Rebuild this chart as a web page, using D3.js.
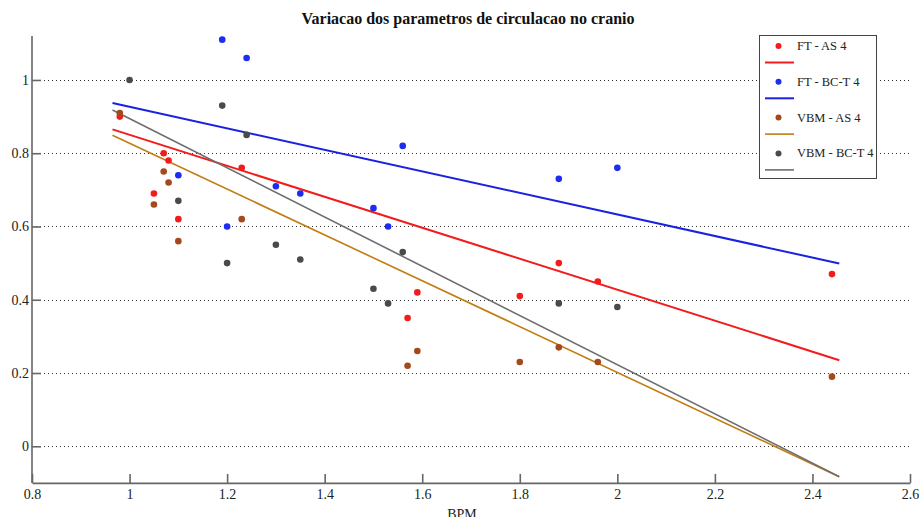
<!DOCTYPE html>
<html>
<head>
<meta charset="utf-8">
<script src="https://cdn.jsdelivr.net/npm/d3@7"></script>
<style>
  html, body { margin: 0; padding: 0; background: #ffffff; }
  svg { display: block; }
</style>
</head>
<body>
<svg id="chart" width="919" height="517"></svg>
<script>
// ---- Data ----
const chartTitle = "Variacao dos parametros de circulacao no cranio";
const xLabel = "BPM";
const seriesNames = ["FT - AS 4", "FT - BC-T 4", "VBM - AS 4", "VBM - BC-T 4"];

const ftAsX   = [0.98, 1.05, 1.07, 1.08, 1.10, 1.23, 1.57, 1.59, 1.80, 1.88, 1.96, 2.44];
const ftAsY   = [0.90, 0.69, 0.80, 0.78, 0.62, 0.76, 0.35, 0.42, 0.41, 0.50, 0.45, 0.47];

const ftBctX  = [1.10, 1.19, 1.20, 1.24, 1.30, 1.35, 1.50, 1.53, 1.56, 1.88, 2.00];
const ftBctY  = [0.74, 1.11, 0.60, 1.06, 0.71, 0.69, 0.65, 0.60, 0.82, 0.73, 0.76];

const vbmAsX  = [0.98, 1.05, 1.07, 1.08, 1.10, 1.23, 1.57, 1.59, 1.80, 1.88, 1.96, 2.44];
const vbmAsY  = [0.91, 0.66, 0.75, 0.72, 0.56, 0.62, 0.22, 0.26, 0.23, 0.27, 0.23, 0.19];

const vbmBctX = [1.00, 1.10, 1.19, 1.20, 1.24, 1.30, 1.35, 1.50, 1.53, 1.56, 1.88, 2.00];
const vbmBctY = [1.00, 0.67, 0.93, 0.50, 0.85, 0.55, 0.51, 0.43, 0.39, 0.53, 0.39, 0.38];

// fitted trend lines: [x start, x end] and y at those ends
const fitX      = [0.965, 2.455];
const ftAsFit   = [0.865, 0.235];
const ftBctFit  = [0.937, 0.499];
const vbmAsFit  = [0.849, -0.083];
const vbmBctFit = [0.918, -0.083];

const xTicks = [0.8, 1, 1.2, 1.4, 1.6, 1.8, 2, 2.2, 2.4, 2.6];
const yTicks = [0, 0.2, 0.4, 0.6, 0.8, 1];

// ---- Styles ----
const dotColors  = ["#f21c1c", "#1c2cf0", "#a4491c", "#4a4a4a"];
const lineColors = ["#f21c1c", "#1a22e0", "#c27c12", "#6e6e6e"];
const lineWidths = [2, 2, 1.6, 1.6];

const series = [
  { name: seriesNames[0], xs: ftAsX,   ys: ftAsY,   fit: ftAsFit },
  { name: seriesNames[1], xs: ftBctX,  ys: ftBctY,  fit: ftBctFit },
  { name: seriesNames[2], xs: vbmAsX,  ys: vbmAsY,  fit: vbmAsFit },
  { name: seriesNames[3], xs: vbmBctX, ys: vbmBctY, fit: vbmBctFit }
];

const svg = d3.select("#chart");
const font = "'Liberation Serif', 'DejaVu Serif', serif";

const x = d3.scaleLinear().domain([0.8, 2.6]).range([32, 910]);
const y = d3.scaleLinear().domain([-0.1, 1.12]).range([482.9, 36]);

// grid (dotted)
svg.append("g").selectAll("line")
  .data(yTicks)
  .join("line")
  .attr("x1", x(0.8)).attr("x2", x(2.6))
  .attr("y1", d => Math.round(y(d)) + 0.5).attr("y2", d => Math.round(y(d)) + 0.5)
  .attr("stroke", "#333")
  .attr("stroke-width", 1)
  .attr("stroke-dasharray", "1,3");

// axes
const axisColor = "#666";
const xAxis = svg.append("g")
  .attr("transform", `translate(0,${y(-0.1)})`)
  .call(d3.axisBottom(x).tickValues(xTicks).tickSizeInner(-9).tickSizeOuter(0)
    .tickPadding(6).tickFormat(d3.format("")));
const yAxis = svg.append("g")
  .attr("transform", `translate(${x(0.8)},0)`)
  .call(d3.axisLeft(y).tickValues(yTicks).tickSizeInner(-9).tickSizeOuter(0)
    .tickPadding(3).tickFormat(d3.format("")));

[xAxis, yAxis].forEach(g => {
  g.select(".domain").attr("stroke", axisColor).attr("stroke-width", 1.6);
  g.selectAll(".tick line").attr("stroke", axisColor).attr("stroke-width", 1.6);
  g.selectAll(".tick text")
    .attr("fill", "#222")
    .style("font-family", font)
    .style("font-size", "14px");
});
// extend y-axis domain to the top
yAxis.select(".domain").attr("d", `M0,${y(1.12)}V${y(-0.1)}`);

// fit lines
const line = d3.line().x(d => x(d[0])).y(d => y(d[1]));
series.forEach((s, i) => {
  svg.append("path")
    .datum(fitX.map((xv, k) => [xv, s.fit[k]]))
    .attr("d", line)
    .attr("fill", "none")
    .attr("stroke", lineColors[i])
    .attr("stroke-width", lineWidths[i]);
});

// points
series.forEach((s, i) => {
  svg.append("g").selectAll("circle")
    .data(s.xs.map((xv, k) => [xv, s.ys[k]]))
    .join("circle")
    .attr("cx", d => x(d[0]))
    .attr("cy", d => y(d[1]))
    .attr("r", 3.3)
    .attr("fill", dotColors[i]);
});

// title
svg.append("text")
  .attr("x", 468).attr("y", 24)
  .attr("text-anchor", "middle")
  .style("font-family", font)
  .style("font-size", "16px")
  .style("font-weight", "bold")
  .attr("fill", "#111")
  .text(chartTitle);

// x label (partially cut at the bottom edge, as in the reference)
svg.append("text")
  .attr("x", 462).attr("y", 519)
  .attr("text-anchor", "middle")
  .style("font-family", font)
  .style("font-size", "14px")
  .attr("fill", "#222")
  .text(xLabel);

// legend
const legend = svg.append("g");
legend.append("rect")
  .attr("x", 759.5).attr("y", 35.5)
  .attr("width", 117).attr("height", 143)
  .attr("fill", "#fff")
  .attr("stroke", "#444")
  .attr("stroke-width", 1);
series.forEach((s, i) => {
  const cy = 46 + i * 35.8;
  legend.append("circle")
    .attr("cx", 778.5).attr("cy", cy)
    .attr("r", 3)
    .attr("fill", dotColors[i]);
  legend.append("text")
    .attr("x", 797).attr("y", cy + 4)
    .style("font-family", font)
    .style("font-size", "12.5px")
    .attr("fill", "#222")
    .text(s.name);
  legend.append("line")
    .attr("x1", 765).attr("x2", 794)
    .attr("y1", cy + 16.5).attr("y2", cy + 16.5)
    .attr("stroke", lineColors[i])
    .attr("stroke-width", lineWidths[i]);
});
</script>
</body>
</html>
